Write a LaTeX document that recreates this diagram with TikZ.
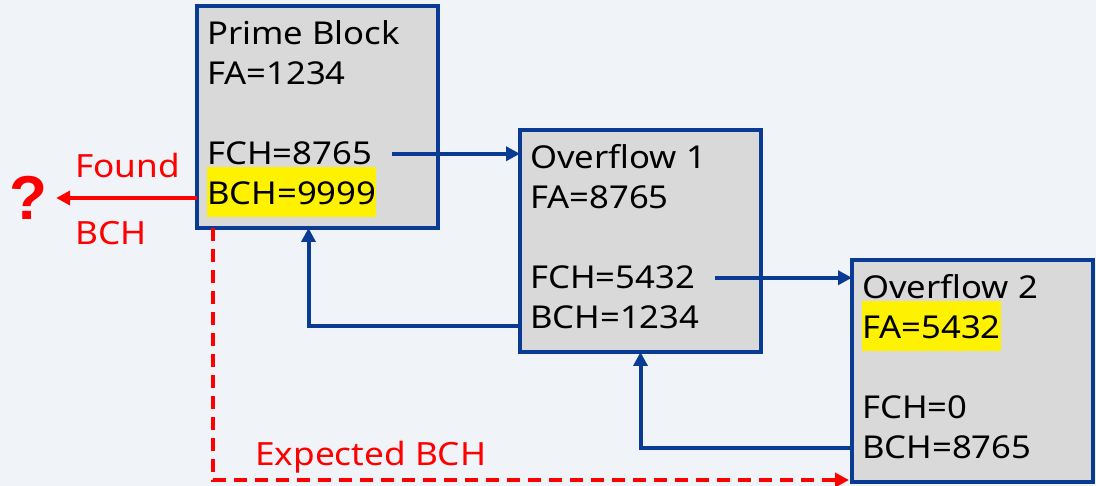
\documentclass[tikz,border=0pt]{standalone}
\usepackage{fontspec}
\setmainfont{Noto Sans}[FakeStretch=1.1]
\newfontfamily\qfont{Liberation Sans}
\usetikzlibrary{arrows.meta}
\definecolor{bgc}{HTML}{F0F3F7}
\definecolor{blkfill}{HTML}{D9D9D9}
\definecolor{blkline}{HTML}{0A3B94}

\begin{document}
\begin{tikzpicture}[x=1pt,y=-1pt,
                every path/.style={>={Triangle[length=14pt,width=14pt]}},
                blk/.style={draw=blkline,fill=blkfill,line width=4pt,anchor=north west,outer sep=0pt,
                            minimum width=241pt,minimum height=222pt,inner sep=0pt},
                ln/.style={anchor=base west,inner sep=0pt,font=\fontsize{31.5}{40}\selectfont},
                hl/.style={ln,fill=yellow,text height=38pt,text depth=12pt},
                flow/.style={->,draw=blkline,line width=4pt},
                bad/.style={->,draw=red,line width=4pt},
                rtxt/.style={anchor=base west,inner sep=0pt,text=red,font=\fontsize{32}{40}\selectfont}]
  \fill[bgc] (0,0) rectangle (1096,486);
  \useasboundingbox (0,0) rectangle (1096,486);
  % blocks
  \node[blk] (prime) at (197,6)   {};
  \node[blk] (ov1)   at (520,130) {};
  \node[blk] (ov2)   at (852,260) {};
  % block contents
  \node[ln] (ptitle) at (207,45)  {Prime Block};
  \node[ln] (pfa)    at (207,85)  {FA=1234};
  \node[ln] (pfch)   at (207,165) {FCH=8765};
  \node[hl] (pbch)   at (207,205) {BCH=9999};
  \node[ln] (otitle) at (530,169) {Overflow 1};
  \node[ln] (ofa)    at (530,209) {FA=8765};
  \node[ln] (ofch)   at (530,289) {FCH=5432};
  \node[ln] (obch)   at (530,329) {BCH=1234};
  \node[ln] (ttitle) at (862,299) {Overflow 2};
  \node[hl] (tfa)    at (862,339) {FA=5432};
  \node[ln] (tfch)   at (862,419) {FCH=0};
  \node[ln] (tbch)   at (862,459) {BCH=8765};
  % forward and backward chains
  \draw[flow] ([xshift=20pt]pfch.east) -- (pfch.east -| ov1.west);
  \draw[flow] ([xshift=20pt]ofch.east) -- (ofch.east -| ov2.west);
  \draw[flow] ([yshift=26pt]ov1.south west) -| ([xshift=-9pt]prime.south);
  \draw[flow] ([yshift=34pt]ov2.south west) -| (ov1.south);
  % broken back chain
  \node[inner sep=0pt,text=red,font=\qfont\bfseries\fontsize{62}{62}\selectfont] (qm) at (28,198) {?};
  \draw[bad] (prime.west |- qm.east) -- ([xshift=9pt]qm.east);
  \node[rtxt] (found) at (75,178) {Found};
  \node[rtxt] (fbch)  at (75,245) {BCH};
  \draw[bad,dash pattern=on 13pt off 8pt,shorten >=3pt] ([xshift=16pt]prime.south west) |- ([yshift=2pt]ov2.south west);
  \node[rtxt] (expct) at (255,466) {Expected BCH};
\end{tikzpicture}
\end{document}
